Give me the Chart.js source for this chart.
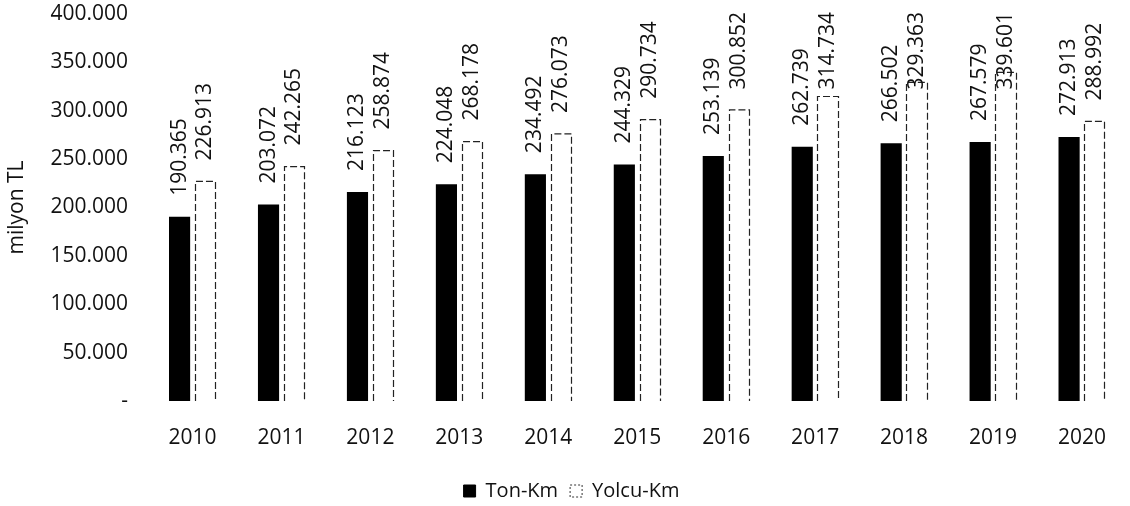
<!DOCTYPE html>
<html>
<head>
<meta charset="utf-8">
<script src="https://cdn.jsdelivr.net/npm/chart.js"></script>
<style>
  html, body { margin: 0; padding: 0; background: #fff; }
  #wrap { width: 1130px; height: 506px; }
</style>
</head>
<body>
<div id="wrap"><canvas id="chartCanvas" width="1130" height="506"></canvas></div>
<script>
// values (milyon TL)
const years = ["2010", "2011", "2012", "2013", "2014", "2015", "2016", "2017", "2018", "2019", "2020"];
const tonKm = [190365, 203072, 216123, 224048, 234492, 244329, 253139, 262739, 266502, 267579, 272913];
const yolcuKm = [226913, 242265, 258874, 268178, 276073, 290734, 300852, 314734, 329363, 339601, 288992];
const yTicks = [0, 50000, 100000, 150000, 200000, 250000, 300000, 350000, 400000];

const FONT = "'Open Sans', 'DejaVu Sans', sans-serif";
const FS = 21;

function fmt(v) {
  if (v === 0) return '-';
  return v.toString().replace(/\B(?=(\d{3})+(?!\d))/g, '.');
}

// dashed outline for the white bars (bar elements ignore borderDash)
const dashedBars = {
  id: 'dashedBars',
  afterDatasetDraw(chart, args) {
    if (args.index !== 1) return;
    const ctx = chart.ctx;
    ctx.save();
    ctx.strokeStyle = '#222';
    ctx.lineWidth = 1.2;
    ctx.setLineDash([7, 3]);
    args.meta.data.forEach(bar => {
      const { x, y, base, width } = bar.getProps(['x', 'y', 'base', 'width'], true);
      const l = Math.round(x - width / 2) + 0.5;
      const r = Math.round(x + width / 2) - 0.5;
      ctx.beginPath();
      ctx.moveTo(l, base);
      ctx.lineTo(l, y);
      ctx.lineTo(r, y);
      ctx.lineTo(r, base);
      ctx.stroke();
    });
    ctx.restore();
  }
};

// rotated value labels above each bar
const valueLabels = {
  id: 'valueLabels',
  afterDatasetsDraw(chart) {
    const ctx = chart.ctx;
    ctx.save();
    ctx.font = FS + 'px ' + FONT;
    ctx.fillStyle = '#111';
    ctx.textAlign = 'left';
    ctx.textBaseline = 'middle';
    chart.data.datasets.forEach((ds, i) => {
      const meta = chart.getDatasetMeta(i);
      meta.data.forEach((bar, j) => {
        const text = fmt(ds.data[j]);
        const w = ctx.measureText(text).width;
        let start = bar.y - 21;
        if (start - w < 12) start = 12 + w; // keep inside the top like Excel does
        ctx.save();
        ctx.translate(bar.x, start);
        ctx.rotate(-Math.PI / 2);
        ctx.fillText(text, 0, 0);
        ctx.restore();
      });
    });
    ctx.restore();
  }
};

const ctx = document.getElementById('chartCanvas').getContext('2d');

new Chart(ctx, {
  type: 'bar',
  data: {
    labels: years,
    datasets: [
      {
        label: 'Ton-Km',
        data: tonKm,
        backgroundColor: '#000',
        borderColor: '#000',
        borderWidth: 0
      },
      {
        label: 'Yolcu-Km',
        data: yolcuKm,
        backgroundColor: '#fff',
        borderColor: '#333',
        borderWidth: 0
      }
    ]
  },
  options: {
    responsive: false,
    animation: false,
    layout: { padding: { top: 0, right: -13, bottom: -5, left: 0 } },
    datasets: {
      bar: { categoryPercentage: 0.58, barPercentage: 0.82 }
    },
    plugins: {
      legend: {
        position: 'bottom',
        labels: {
          font: { family: FONT, size: 20 },
          color: '#111',
          boxWidth: 12,
          boxHeight: 12,
          padding: 12,
          generateLabels(chart) {
            return chart.data.datasets.map((ds, i) => ({
              text: ds.label,
              fillStyle: ds.backgroundColor,
              strokeStyle: i === 0 ? '#000' : '#333',
              lineWidth: 1,
              lineDash: i === 0 ? [] : [2, 2],
              datasetIndex: i,
              fontColor: '#111'
            }));
          }
        }
      },
      tooltip: { enabled: false }
    },
    scales: {
      x: {
        grid: { display: false, drawTicks: false },
        border: { display: false },
        ticks: {
          font: { family: FONT, size: FS },
          color: '#111',
          padding: 24
        },
        afterFit(scale) { scale.height = 68; }
      },
      y: {
        min: 0,
        max: 400000,
        grid: { display: false, drawTicks: false },
        border: { display: false },
        afterBuildTicks(scale) { scale.ticks = yTicks.map(v => ({ value: v })); },
        afterFit(scale) {
          scale.width = 148;
          scale.paddingTop = 14;
          scale.paddingBottom = 14;
        },
        ticks: {
          font: { family: FONT, size: FS },
          color: '#111',
          padding: 20,
          callback: v => fmt(v)
        },
        title: {
          display: true,
          text: 'milyon TL',
          font: { family: FONT, size: FS },
          color: '#111',
          padding: { top: 4, bottom: 0 }
        }
      }
    }
  },
  plugins: [dashedBars, valueLabels]
});
</script>
</body>
</html>
